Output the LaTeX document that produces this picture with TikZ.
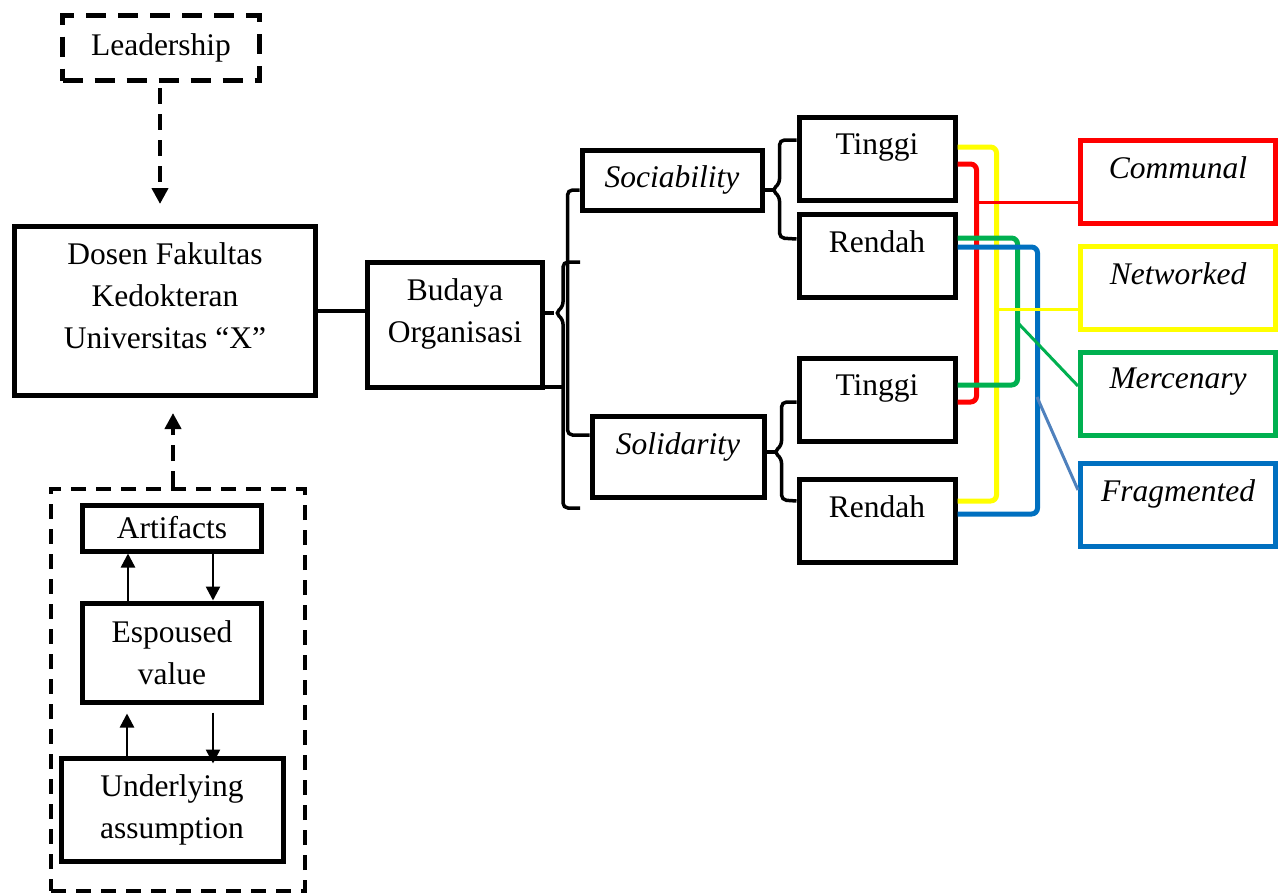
\documentclass[tikz,border=0pt]{standalone}
\usepackage{fontspec}
\setmainfont{Liberation Serif}
\usetikzlibrary{arrows.meta, positioning}

\definecolor{cRed}{HTML}{FF0000}
\definecolor{cYellow}{HTML}{FFFF00}
\definecolor{cGreen}{HTML}{00B050}
\definecolor{cBlue}{HTML}{0070C0}
\definecolor{cSteel}{HTML}{4F81BD}

\begin{document}
\begin{tikzpicture}[
	x=1pt, y=-1pt,
	every node/.style={font=\fontsize{31.5}{42}\selectfont},
	box/.style={rectangle, draw, line width=5pt, inner sep=0pt, align=center},
	txt/.style={align=center, inner sep=0pt},
	outbox/.style={box, minimum width=195, minimum height=83},
	valbox/.style={box, minimum width=156, minimum height=83},
	brk/.style={line width=3.5pt, rounded corners=5pt},
	dasharrow/.style={line width=4pt, dash pattern=on 16pt off 10pt, -{Triangle[width=16pt,length=16pt]}},
	arrow/.style={line width=2.5pt, -{Triangle[width=14pt,length=14pt]}},
	mix/.style={line width=5pt, rounded corners=6pt}
	]
	\useasboundingbox (0,0) rectangle (1286,895);

	% Left side
	\node[box, dash pattern=on 20pt off 12pt, minimum width=197, minimum height=65] (leader) at (161,48) {Leadership};
	\node[box, minimum width=301, minimum height=169] (dosen) at (165,311) {};
	\node[txt, below=18pt of dosen.north] (dosenTxt) {Dosen Fakultas\\Kedokteran\\Universitas ``X''};

	\node[box, line width=4pt, dash pattern=on 15pt off 10pt, minimum width=254, minimum height=402] (layers) at (178,690) {};
	\node[box, minimum width=179, minimum height=46] (artifacts) at (172,528) {Artifacts};
	\node[box, minimum width=179, minimum height=99, below=47pt of artifacts] (espoused) {Espoused\\value};
	\node[box, minimum width=222, minimum height=103, below=51pt of espoused] (underlying) {Underlying\\assumption};

	\draw[dasharrow] ([xshift=-1pt,yshift=-5pt]leader.south) -- ([xshift=-5pt,yshift=20pt]dosen.north);
	\draw[dasharrow] ([xshift=-5pt]layers.north) -- ([xshift=8pt,yshift=-15pt]dosen.south);
	\draw[arrow] ([xshift=-44pt]espoused.north) -- ([xshift=-44pt]artifacts.south);
	\draw[arrow] ([xshift=41pt]artifacts.south) -- ([xshift=41pt]espoused.north);
	\draw[arrow] ([xshift=-45pt]underlying.north) -- ++(0,-42);
	\draw[arrow] ([xshift=41pt,yshift=-8pt]espoused.south) -- ([xshift=41pt,yshift=-8pt]espoused.south |- underlying.north);

	% Budaya and dimensions
	\node[box, minimum width=175, minimum height=125] (budaya) at (455,325) {};
	\node[txt, below=18pt of budaya.north] (budayaTxt) {Budaya\\Organisasi};
	\draw[line width=3.5pt] (dosen.east) -- (dosen.east -| budaya.west);

	\node[box, minimum width=180, minimum height=60] (sociability) at (672,180) {\itshape Sociability};
	\node[box, minimum width=172, minimum height=81] (solidarity) at (678,457) {};
	\node[txt, below=18pt of solidarity.north] (solidarityTxt) {\itshape Solidarity};

	\coordinate (braceTop) at (580,262);
	\coordinate (braceBot) at (580,508);
	\draw[brk] (braceTop) -- ++(-17,0) -- ++(0,45) -- ++(-8,6) -- ++(8,6) -- ++(0,189) -- (braceBot);
	\draw[line width=3.5pt] ([yshift=12pt]budaya.east) -- ++(9,0);
	\draw[line width=3.5pt] ([yshift=-62pt]budaya.east) -- ++(18,0);
	\draw[brk] ([yshift=-10pt]sociability.west) -- ++(-12,0) |- ([yshift=22pt]solidarity.west);

	% Tinggi / Rendah
	\node[valbox] (tinggiA) at (877,159) {};
	\node[valbox, below=9pt of tinggiA] (rendahA) {};
	\node[valbox] (tinggiB) at (877,400) {};
	\node[valbox, below=33pt of tinggiB] (rendahB) {};
	\node[txt, below=18pt of tinggiA.north] (tinggiAtxt) {Tinggi};
	\node[txt, below=18pt of rendahA.north] (rendahAtxt) {Rendah};
	\node[txt, below=18pt of tinggiB.north] (tinggiBtxt) {Tinggi};
	\node[txt, below=18pt of rendahB.north] (rendahBtxt) {Rendah};

	\draw[brk] ([yshift=19pt]tinggiA.west) -- ++(-17,0) -- ++(0,44) -- ++(-8,6) -- ++(8,6) -- ++(0,42) -- ([yshift=17pt]rendahA.west);
	\draw[line width=3.5pt] ([yshift=-10pt]sociability.east) -- ++(8,0);
	\draw[brk] ([yshift=-2pt]tinggiB.west) -- ++(-15,0) -- ++(0,44) -- ++(-8,6) -- ++(8,6) -- ++(0,42) -- ([yshift=20pt]rendahB.west);
	\draw[line width=3.5pt] ([yshift=5pt]solidarity.east) -- ++(8,0);

	% Culture types
	\node[outbox, draw=cRed] (communal) at (1178,182) {};
	\node[outbox, draw=cYellow, below=18pt of communal] (networked) {};
	\node[outbox, draw=cGreen, below=18pt of networked] (mercenary) {};
	\node[outbox, draw=cBlue, below=23pt of mercenary] (fragmented) {};
	\node[txt, below=18pt of communal.north] (communalTxt) {\itshape Communal};
	\node[txt, below=18pt of networked.north] (networkedTxt) {\itshape Networked};
	\node[txt, below=18pt of mercenary.north] (mercenaryTxt) {\itshape Mercenary};
	\node[txt, below=18pt of fragmented.north] (fragmentedTxt) {\itshape Fragmented};

	% Combinations
	\draw[mix, cYellow] ([yshift=12pt]tinggiA.east) -- ++(39,0) |- ([yshift=20pt]rendahB.east);
	\draw[mix, cRed] ([yshift=-5pt]tinggiA.east) -- ++(19,0) |- ([yshift=-2pt]tinggiB.east);
	\draw[mix, cGreen] ([yshift=18pt]rendahA.east) -- ++(60,0) |- ([yshift=15pt]tinggiB.east);
	\draw[mix, cBlue] ([yshift=9pt]rendahA.east) -- ++(80,0) |- ([yshift=7pt]rendahB.east);

	\coordinate (redJoin) at (977,202);
	\coordinate (yellowJoin) at (999,309);
	\coordinate (greenJoin) at (1018,323);
	\coordinate (blueJoin) at (1037,397);
	\draw[line width=3pt, cRed] (redJoin) -- (redJoin -| communal.west);
	\draw[line width=3pt, cYellow] (yellowJoin) -- (yellowJoin -| networked.west);
	\draw[line width=3pt, cGreen] (greenJoin) -- ([yshift=8pt]mercenary.west);
	\draw[line width=3pt, cSteel] (blueJoin) -- ([yshift=15pt]fragmented.west);
\end{tikzpicture}
\end{document}
